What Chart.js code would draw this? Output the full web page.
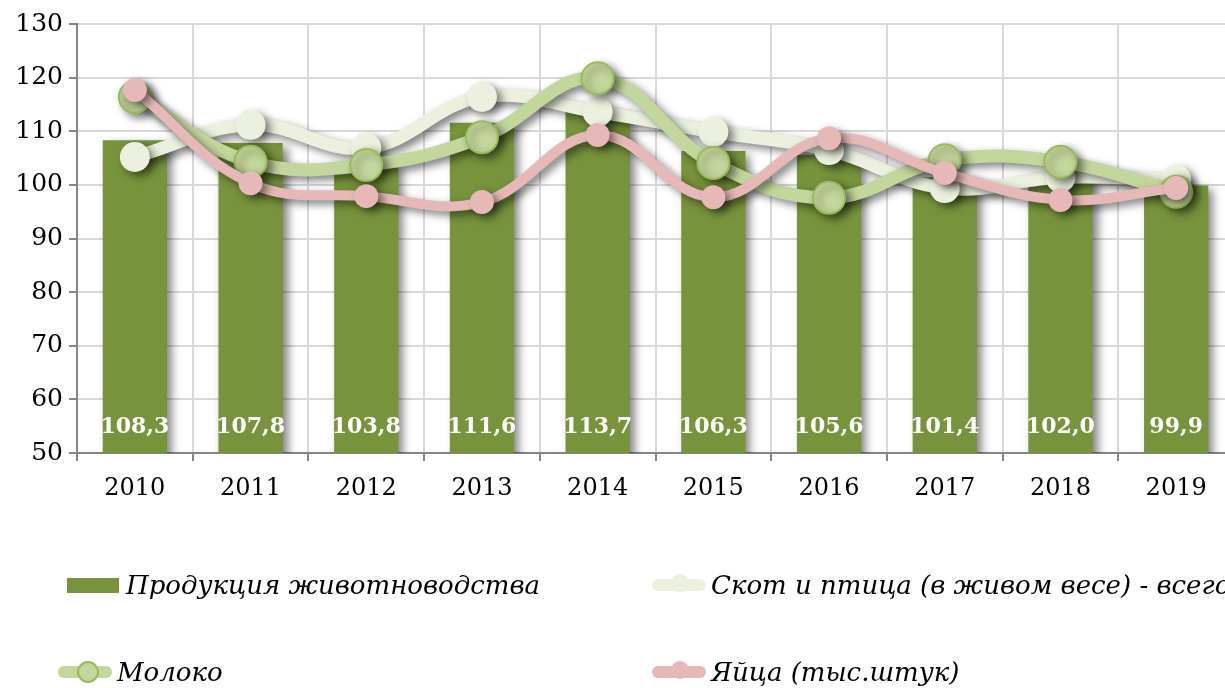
<!DOCTYPE html>
<html lang="ru">
<head>
<meta charset="utf-8">
<script src="https://cdn.jsdelivr.net/npm/chart.js@4.4.1/dist/chart.umd.min.js"></script>
<style>
  html, body { margin: 0; padding: 0; background: #fff; overflow: hidden; }
  #wrap { position: relative; width: 1252px; height: 688px; }
  #legend { position: absolute; left: 0; top: 0; width: 1252px; height: 688px; pointer-events: none;
    font-family: "DejaVu Serif", serif; font-style: italic; font-size: 26px; color: #000; }
  .item { position: absolute; white-space: nowrap; display: flex; align-items: center; height: 30px; }
  .mark { position: relative; width: 54px; height: 30px; margin-right: 5px; }
  .mark .bar { position: absolute; left: 0; top: 8px; width: 52px; height: 15px; }
  .mark .ln { position: absolute; left: 0; top: 9px; width: 54px; height: 12px; border-radius: 6px; }
  .mark .dot { position: absolute; top: 4px; left: 19px; width: 18px; height: 18px; border-radius: 50%; box-sizing: border-box; }
</style>
</head>
<body>
<div id="wrap">
  <canvas id="chart" width="1252" height="688"></canvas>
  <div id="legend"></div>
</div>
<script>
const years = ['2010', '2011', '2012', '2013', '2014', '2015', '2016', '2017', '2018', '2019'];
const produkciya = [108.3, 107.8, 103.8, 111.6, 113.7, 106.3, 105.6, 101.4, 102.0, 99.9];
const skot = [105.2, 111.2, 106.9, 116.4, 113.6, 109.9, 106.5, 99.4, 101.4, 101.0];
const moloko = [116.4, 104.3, 103.7, 108.9, 119.9, 104.1, 97.6, 104.6, 104.3, 98.7];
const yaica = [117.7, 100.3, 97.9, 96.8, 109.3, 97.7, 108.7, 102.2, 97.2, 99.4];

const labelsNames = ['Продукция животноводства', 'Скот и птица (в живом весе) - всего', 'Молоко', 'Яйца (тыс.штук)'];

const colBar = '#77933c';
const colSkot = '#ebf1de';
const colMoloko = '#c3d69b';
const colMolokoBorder = '#9bbb59';
const colYaica = '#e6b9b8';

const serif = '"DejaVu Serif", serif';

// тень под столбцами и линиями
const shadowPlugin = {
  id: 'shadow',
  beforeDatasetDraw(chart) {
    const ctx = chart.ctx;
    ctx.save();
    ctx.shadowColor = 'rgba(0,0,0,0.5)';
    ctx.shadowBlur = 9;
    ctx.shadowOffsetX = 5;
    ctx.shadowOffsetY = 4;
  },
  afterDatasetDraw(chart) {
    chart.ctx.restore();
  }
};

// подписи значений внизу столбцов
const barLabels = {
  id: 'barLabels',
  afterDatasetsDraw(chart) {
    const meta = chart.getDatasetMeta(0);
    const ctx = chart.ctx;
    ctx.save();
    ctx.fillStyle = '#fff';
    ctx.font = 'bold 22px ' + serif;
    ctx.textAlign = 'center';
    ctx.textBaseline = 'middle';
    const y = chart.scales.y.getPixelForValue(54.8);
    meta.data.forEach((bar, i) => {
      ctx.fillText(produkciya[i].toFixed(1).replace('.', ','), bar.x, y);
    });
    ctx.restore();
  }
};

const chart = new Chart(document.getElementById('chart').getContext('2d'), {
  type: 'bar',
  data: {
    labels: years,
    datasets: [{
      type: 'bar',
      label: labelsNames[0],
      data: produkciya,
      backgroundColor: colBar,
      barPercentage: 0.555,
      categoryPercentage: 1,
      order: 3
    }, {
      type: 'line',
      label: labelsNames[1],
      data: skot,
      borderColor: colSkot,
      backgroundColor: colSkot,
      borderWidth: 13,
      pointRadius: 15,
      pointBorderWidth: 0,
      pointBackgroundColor: colSkot,
      tension: 0.4,
      order: 2
    }, {
      type: 'line',
      label: labelsNames[2],
      data: moloko,
      borderColor: colMoloko,
      backgroundColor: colMoloko,
      borderWidth: 13,
      pointRadius: 16,
      pointBorderWidth: 2,
      pointBorderColor: colMolokoBorder,
      pointBackgroundColor: colMoloko,
      tension: 0.4,
      order: 1
    }, {
      type: 'line',
      label: labelsNames[3],
      data: yaica,
      borderColor: colYaica,
      backgroundColor: colYaica,
      borderWidth: 10,
      pointRadius: 12,
      pointBorderWidth: 0,
      pointBackgroundColor: colYaica,
      tension: 0.4,
      order: 0
    }]
  },
  options: {
    responsive: false,
    animation: false,
    layout: { padding: { top: 24, right: 7, left: 0, bottom: 0 } },
    plugins: {
      legend: { display: false },
      tooltip: { enabled: false }
    },
    scales: {
      x: {
        offset: true,
        grid: { color: '#d9d9d9', lineWidth: 2, offset: true, tickLength: 8, tickColor: '#868686' },
        border: { color: '#868686', width: 2 },
        ticks: { color: '#000', font: { family: serif, size: 24 }, padding: 13 },
        afterFit(scale) { scale.height = 235; }
      },
      y: {
        min: 50,
        max: 130,
        grid: { color: '#d9d9d9', lineWidth: 2, tickLength: 8, tickColor: '#868686' },
        border: { color: '#868686', width: 2 },
        ticks: { stepSize: 10, color: '#000', font: { family: serif, size: 25 }, padding: 6 },
        afterFit(scale) { scale.width = 77; }
      }
    }
  },
  plugins: [shadowPlugin, barLabels]
});

// легенда в две колонки
const legendPos = [[67, 570], [652, 570], [58, 657], [652, 657]];
const legend = document.getElementById('legend');
labelsNames.forEach((name, i) => {
  const it = document.createElement('div');
  it.className = 'item';
  it.style.left = legendPos[i][0] + 'px';
  it.style.top = legendPos[i][1] + 'px';
  let mark = '';
  if (i === 0) {
    mark = '<div class="bar" style="background:' + colBar + '"></div>';
  } else if (i === 1) {
    mark = '<div class="ln" style="background:' + colSkot + '"></div><div class="dot" style="background:' + colSkot + '"></div>';
  } else if (i === 2) {
    mark = '<div class="ln" style="background:' + colMoloko + '"></div><div class="dot" style="background:' + colMoloko + ';border:2px solid ' + colMolokoBorder + ';width:22px;height:22px;top:4px;left:19px"></div>';
  } else {
    mark = '<div class="ln" style="background:' + colYaica + '"></div><div class="dot" style="background:' + colYaica + '"></div>';
  }
  it.innerHTML = '<div class="mark">' + mark + '</div><span>' + name + '</span>';
  legend.appendChild(it);
});
</script>
</body>
</html>
